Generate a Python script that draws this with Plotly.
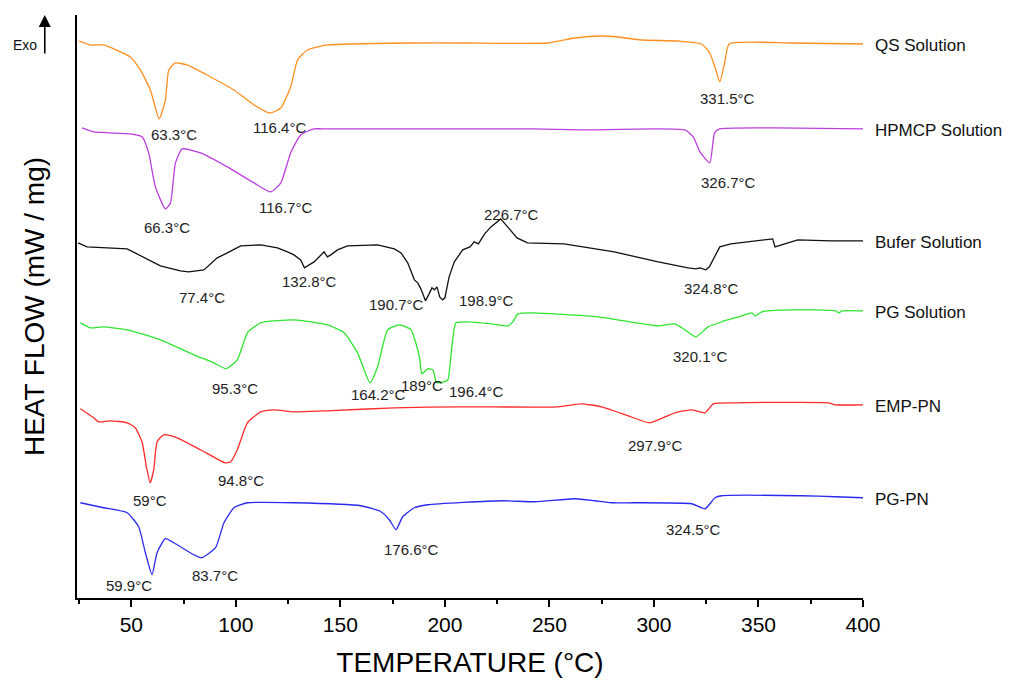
import numpy as np
import plotly.graph_objects as go

# ---- DSC thermograms (temperature in °C, heat flow in stacked arbitrary units) ----
qs_t = [25, 30.4, 36.7, 49.5, 54.3, 59.1, 63.3, 66.3, 67.9, 71.1, 76.7, 87.9, 99.1, 108.7, 116.4,
        121.5, 126.2, 129.5, 134.3, 143.8, 183.8, 207.7, 249.3, 262.1, 274.9, 282.9, 294.0, 311.6,
        322.8, 326.7, 329.6, 331.5, 333.8, 336.0, 365.9, 400]
qs_hf = [5.56, 5.52, 5.52, 5.40, 5.27, 5.07, 4.78, 4.97, 5.27, 5.34, 5.32, 5.20, 5.07, 4.92, 4.84,
         4.89, 5.10, 5.37, 5.47, 5.52, 5.54, 5.54, 5.54, 5.59, 5.61, 5.60, 5.57, 5.56,
         5.53, 5.44, 5.27, 5.15, 5.34, 5.53, 5.54, 5.53]

hp_t = [26.4, 32.0, 49.5, 55.2, 58.3, 61.5, 66.3, 68.7, 71.1, 74.3, 83.1, 95.9, 108.7, 116.7, 121.5,
        126.2, 131.0, 137.4, 143.8, 207.7, 241.3, 265.3, 314.8, 318.8, 322.0, 326.7, 329.0, 331.4,
        357.9, 400]
hp_hf = [4.69, 4.65, 4.63, 4.60, 4.44, 4.10, 3.88, 3.94, 4.34, 4.48, 4.44, 4.30, 4.14, 4.05, 4.14,
         4.44, 4.62, 4.68, 4.68, 4.68, 4.68, 4.67, 4.67, 4.60, 4.45, 4.34, 4.64, 4.68,
         4.69, 4.68]

buf_t = [24.5, 28.8, 48.0, 63.9, 73.5, 77.4, 84.7, 91.1, 95.9, 102.3, 111.9, 119.9, 124.7, 127.8,
         131.0, 132.8, 137.4, 140.5, 142.2, 143.8, 145.4, 148.6, 153.4, 167.8, 175.8, 179.0, 182.2,
         185.4, 187.0, 188.5, 190.7, 192.2, 193.8, 195.0, 196.2, 197.5, 198.9, 200.0, 202.0, 204.5,
         208.5, 212.0, 214.0, 216.0, 219.0, 222.0, 226.7, 230.0, 234.5, 239.5, 257.0, 281.0, 302.0,
         316.3, 320.0, 322.0, 324.8, 326.5, 329.0, 331.5, 336.8, 345.0, 354.4, 356.8, 357.9, 360.8,
         368.8, 384.8, 400]
buf_hf = [3.54, 3.50, 3.48, 3.31, 3.26, 3.25, 3.27, 3.39, 3.44, 3.51, 3.52, 3.49, 3.45, 3.42,
          3.37, 3.29, 3.35, 3.41, 3.45, 3.40, 3.42, 3.47, 3.51, 3.52, 3.48, 3.44, 3.34,
          3.17, 3.14, 3.08, 2.96, 3.02, 3.09, 3.07, 3.10, 3.00, 2.97, 2.99, 3.20, 3.35,
          3.47, 3.50, 3.55, 3.53, 3.63, 3.70, 3.78, 3.70, 3.59, 3.54, 3.53, 3.45, 3.35,
          3.29, 3.28, 3.29, 3.27, 3.30, 3.40, 3.50, 3.53, 3.55, 3.57, 3.58, 3.50, 3.52,
          3.57, 3.56, 3.56]

pg_t = [25.6, 30.4, 36.7, 48.0, 63.9, 79.9, 89.5, 95.3, 100.7, 105.5, 111.9, 127.8, 143.8, 151.8,
        158.2, 164.2, 167.8, 172.6, 178.2, 183.8, 187.8, 189.0, 191.8, 194.2, 195.8, 196.4, 199.5,
        201.4, 203.3, 205.3, 210.9, 222.1, 230.1, 232.5, 234.9, 241.3, 273.3, 302.0, 310.0, 314.8,
        320.1, 325.9, 332.4, 340.4, 346.8, 348.4, 351.6, 364.4, 386.8, 388.4, 390.0, 400]
pg_hf = [2.74, 2.69, 2.70, 2.67, 2.57, 2.42, 2.34, 2.28, 2.37, 2.64, 2.74, 2.77, 2.72, 2.64,
         2.44, 2.14, 2.30, 2.67, 2.72, 2.67, 2.40, 2.23, 2.28, 2.27, 2.15, 2.14, 2.15,
         2.17, 2.50, 2.74, 2.75, 2.73, 2.71, 2.75, 2.83, 2.84, 2.80, 2.71, 2.73, 2.67,
         2.60, 2.70, 2.75, 2.80, 2.84, 2.81, 2.85, 2.87, 2.86, 2.84, 2.86, 2.86]

emp_t = [25.6, 32.0, 34.3, 40.0, 48.0, 51.9, 55.2, 57.2, 59.0, 60.7, 62.3, 65.5, 71.9, 83.1, 94.8,
         97.5, 100.7, 105.5, 111.9, 118.2, 127.8, 143.8, 175.8, 207.7, 254.1, 265.3, 274.9, 287.7,
         297.9, 310.0, 318.0, 324.4, 328.4, 338.8, 383.5, 386.7, 400]
emp_hf = [1.88, 1.79, 1.75, 1.76, 1.74, 1.69, 1.54, 1.30, 1.14, 1.27, 1.55, 1.62, 1.59, 1.47, 1.34,
          1.35, 1.47, 1.74, 1.85, 1.87, 1.85, 1.86, 1.89, 1.90, 1.90, 1.93, 1.90, 1.81,
          1.74, 1.84, 1.87, 1.84, 1.93, 1.94, 1.94, 1.92, 1.92]

pgpn_t = [25.6, 36.7, 48.0, 53.5, 56.7, 59.9, 62.3, 66.3, 71.9, 79.9, 83.7, 90.3, 94.3, 99.1, 105.5,
          127.8, 159.8, 169.4, 173.4, 176.6, 179.8, 185.4, 191.8, 226.9, 242.9, 262.1, 271.6, 279.6,
          290.8, 318.0, 324.5, 329.2, 332.4, 370.7, 386.7, 400]
pgpn_hf = [0.94, 0.89, 0.84, 0.70, 0.44, 0.22, 0.44, 0.58, 0.52, 0.42, 0.39, 0.49, 0.74, 0.89, 0.94,
           0.94, 0.91, 0.85, 0.77, 0.67, 0.80, 0.89, 0.92, 0.96, 0.95, 0.98, 0.96, 0.94,
           0.94, 0.93, 0.88, 0.99, 1.01, 1.01, 1.00, 0.99]

series_names = ["QS Solution", "HPMCP Solution", "Bufer Solution", "PG Solution", "EMP-PN", "PG-PN"]
series_t = [qs_t, hp_t, buf_t, pg_t, emp_t, pgpn_t]
series_hf = [qs_hf, hp_hf, buf_hf, pg_hf, emp_hf, pgpn_hf]
series_colors = ["#FF8F1F", "#BB3FDD", "#111111", "#2EE52E", "#FF2A2A", "#2A2AEE"]
series_shapes = ["spline", "spline", "linear", "spline", "spline", "spline"]

# Peak temperatures marked on each curve: (series index, temperature, label offset x/y in px)
peak_series = [0, 0, 0, 1, 1, 1, 2, 2, 2, 2, 2, 2, 3, 3, 3, 3, 3, 4, 4, 4, 5, 5, 5, 5]
peak_temps = [63.3, 116.4, 331.5, 66.3, 116.7, 326.7, 77.4, 132.8, 190.7, 198.9, 226.7, 324.8,
              95.3, 164.2, 189, 196.4, 320.1, 59, 94.8, 297.9, 59.9, 83.7, 176.6, 324.5]
peak_dx = [15, 9, 8, 2, 15, 19, 13, 5, -29, 44, 11, 6, 9, 8, 0, 39, 5, 0, 16, 6, -23, 13, 15, -12]
peak_dy = [-16, -15, -17, -19, -16, -20, -26, -14, -4, -1, 4, -19, -20, -12, -12, -9, -20, -18, -18,
           -23, -11, -18, -20, -21]

FONT = "Liberation Sans, Arial, sans-serif"

fig = go.Figure()
for name, t, hf, col, shp in zip(series_names, series_t, series_hf, series_colors, series_shapes):
    line = dict(color=col, width=1.3, shape=shp)
    if shp == "spline":
        line["smoothing"] = 0.5
    fig.add_trace(go.Scatter(x=t, y=hf, mode="lines", name=name, line=line,
                             hoverinfo="skip", showlegend=False))

annotations = []
for si, temp, dx, dy in zip(peak_series, peak_temps, peak_dx, peak_dy):
    yv = float(np.interp(temp, series_t[si], series_hf[si]))
    txt = f"{temp:g}°C"
    annotations.append(dict(x=temp, y=yv, xref="x", yref="y", text=txt, showarrow=False,
                            xanchor="center", yanchor="middle", xshift=dx, yshift=dy,
                            font=dict(family=FONT, size=15, color="#222222")))

# Curve names at the right end of each trace
for name, hf in zip(series_names, series_hf):
    annotations.append(dict(x=1.0, y=hf[-1], xref="paper", yref="y", text=name, showarrow=False,
                            xanchor="left", yanchor="middle", xshift=10, yshift=-2,
                            font=dict(family=FONT, size=17, color="#111111")))

# Exo direction marker
annotations.append(dict(x=-0.041, y=1.0, xref="paper", yref="paper", text="", showarrow=True,
                        ax=0, ay=40, arrowhead=2, arrowsize=1.5, arrowwidth=1.6,
                        arrowcolor="black"))
annotations.append(dict(x=-0.066, y=0.949, xref="paper", yref="paper", text="Exo",
                        showarrow=False, xanchor="center", yanchor="middle",
                        font=dict(family=FONT, size=14, color="#111111")))

fig.update_layout(
    width=1016, height=684,
    margin=dict(l=77, r=153, t=15, b=86),
    paper_bgcolor="white", plot_bgcolor="white",
    annotations=annotations,
    font=dict(family=FONT, color="black"),
)

fig.update_xaxes(
    range=[24, 400], showgrid=False, zeroline=False,
    showline=True, linecolor="black", linewidth=2,
    ticks="outside", ticklen=7, tickwidth=2, tickcolor="black",
    tickmode="linear", tick0=50, dtick=50,
    minor=dict(ticks="outside", ticklen=4, tickwidth=1.5, tickcolor="black",
               tickmode="linear", tick0=25, dtick=25, showgrid=False),
    tickfont=dict(family=FONT, size=21, color="black"),
    title=dict(text="TEMPERATURE (°C)", font=dict(family=FONT, size=28, color="black"), standoff=17),
)
fig.update_yaxes(
    range=[-0.013, 5.82], showgrid=False, zeroline=False,
    showline=True, linecolor="black", linewidth=2,
    showticklabels=False, ticks="",
    title=dict(text="HEAT FLOW (mW / mg)", font=dict(family=FONT, size=28, color="black"), standoff=22),
)

fig.write_html("out.html")
